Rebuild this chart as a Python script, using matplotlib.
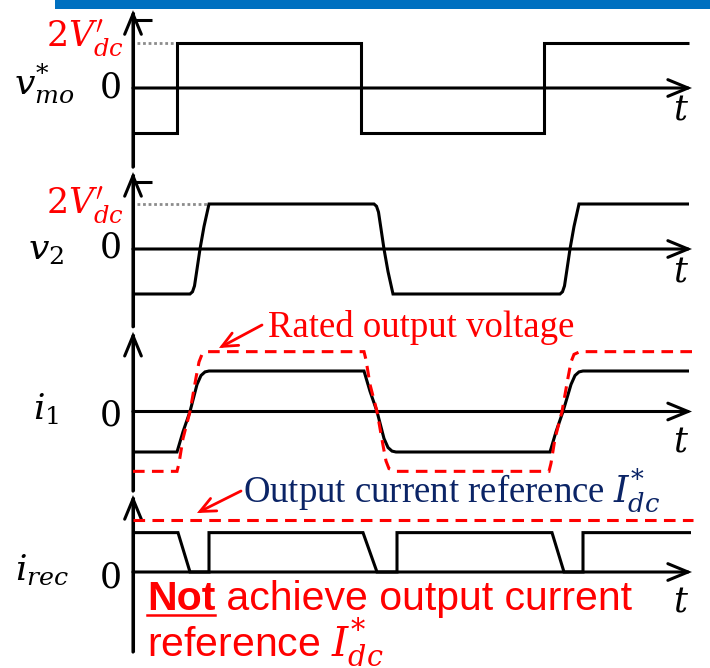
import matplotlib
matplotlib.use("Agg")
import matplotlib.pyplot as plt
from matplotlib.patches import FancyArrowPatch, Rectangle
from matplotlib.transforms import Affine2D

# ---- waveform data (time in arbitrary units, amplitude normalised) ----
VMO_T = [0, 44, 44, 228, 228, 411, 411, 556]
VMO_Y = [-1, -1, 1, 1, -1, -1, 1, 1]

V2_T = [0, 57, 59.5, 61.5, 64, 67, 71, 76,
        241, 243.5, 245.5, 248, 251, 255, 260,
        427, 429.5, 431.5, 434, 437, 441, 446, 556]
V2_Y = [-1, -1, -0.95, -0.82, -0.45, 0, 0.5, 1,
        1, 0.95, 0.82, 0.45, 0, -0.5, -1,
        -1, -0.95, -0.82, -0.45, 0, 0.5, 1, 1]

I1_T = [0, 44, 50, 57, 64, 68, 72, 76,
        231, 237, 244, 251, 255, 259, 263,
        417, 423, 430, 438, 442, 446, 450, 556]
I1_Y = [-0.9, -0.9, -0.45, 0, 0.6, 0.8, 0.88, 0.9,
        0.9, 0.45, 0, -0.6, -0.8, -0.88, -0.9,
        -0.9, -0.45, 0, 0.6, 0.8, 0.88, 0.9, 0.9]

RATED_T = [0, 44, 46, 50, 57, 63, 66, 69, 75,
           231, 233, 237, 244, 250, 253, 256, 263,
           416, 418, 422, 429, 435, 438, 441, 447, 563]
RATED_Y = [-1.33, -1.33, -1.15, -0.6, 0, 0.75, 1.1, 1.27, 1.33,
           1.33, 1.15, 0.6, 0, -0.75, -1.1, -1.27, -1.33,
           -1.33, -1.15, -0.6, 0, 0.75, 1.1, 1.27, 1.33, 1.33]

IREC_T = [0, 45, 57, 76, 76, 230, 244, 264, 264, 419, 431, 450, 450, 558]
IREC_Y = [0.875, 0.875, 0, 0, 0.875, 0.875, 0, 0, 0.875, 0.875, 0, 0, 0.875, 0.875]

IREF_T = [0, 560]
IREF_Y = [1.15, 1.15]

PANEL_LABELS = [r"$v_{mo}^{*}$", r"$v_2$", r"$i_1$", r"$i_{rec}$"]
PEAK_LABEL = r"$2V_{dc}'$"

# ---- layout ----
W, H = 710, 668
AXIS_X = 133          # pixel column of the vertical axes
UNIT = 45             # pixels per amplitude unit
ZEROS = [88, 249, 411.5, 572]
AX_TOP = [1.73, 1.71, 1.77, 1.71]
AX_BOT = [-1.76, -1.73, -1.77, -1.78]
T_END = 559

BLACK = "black"
RED = "#ff0000"
NAVY = "#0b2466"
LW = 2.2
MATH = "dejavuserif"

plt.rcParams["mathtext.fontset"] = MATH
fig = plt.figure(figsize=(W / 100, H / 100), dpi=100)
fig.patch.set_facecolor("white")
PX = Affine2D().scale(1 / W, -1 / H).translate(0, 1) + fig.transFigure


def make_panel(zero_px):
    half = 2 * UNIT
    ax = fig.add_axes([0, 1 - (zero_px + half) / H, 1, 2 * half / H])
    ax.set_xlim(-AXIS_X, W - AXIS_X)
    ax.set_ylim(-2, 2)
    ax.axis("off")
    ax.patch.set_alpha(0)
    return ax


def arrow(ax, p0, p1, color=BLACK, lw=LW, hl=1.45, hw=0.6, transform=None):
    a = FancyArrowPatch(p0, p1, arrowstyle=f"->,head_length={hl},head_width={hw}",
                        mutation_scale=10, lw=lw, color=color, shrinkA=0, shrinkB=0,
                        clip_on=False, joinstyle="miter",
                        transform=transform if transform is not None else ax.transData)
    ax.add_patch(a)


axes = [make_panel(z) for z in ZEROS]
for ax, top, bot in zip(axes, AX_TOP, AX_BOT):
    ax.plot([0, 0], [bot, top - 0.05], color=BLACK, lw=LW, solid_capstyle="butt", clip_on=False)
    arrow(ax, (0, bot), (0, top))
    arrow(ax, (0, 0), (T_END, 0))

# small stubs beside the upper arrow tips
for ax, top in zip(axes[:2], AX_TOP[:2]):
    ax.plot([0, 19], [top - 0.22, top - 0.22], color=BLACK, lw=LW, solid_capstyle="butt")

line_kw = dict(color=BLACK, lw=LW, solid_joinstyle="miter", solid_capstyle="butt", clip_on=False)
dash_kw = dict(color=RED, lw=LW, linestyle=(0, (3.8, 2.4)), dash_joinstyle="miter",
               dash_capstyle="butt", clip_on=False)
dot_kw = dict(color="#8c8c8c", lw=2.0, linestyle=(0, (1, 1)), dash_capstyle="butt")

# panel 1: command voltage
axes[0].plot([4, VMO_T[2]], [max(VMO_Y)] * 2, **dot_kw)
axes[0].plot(VMO_T, VMO_Y, **line_kw)
# panel 2: transformer voltage
axes[1].plot([4, V2_T[7]], [max(V2_Y)] * 2, **dot_kw)
axes[1].plot(V2_T, V2_Y, **line_kw)
# panel 3: primary current and rated output voltage envelope
axes[2].plot(I1_T, I1_Y, **line_kw)
axes[2].plot(RATED_T, RATED_Y, zorder=3, **dash_kw)
# panel 4: rectified current and reference
axes[3].plot(IREC_T, IREC_Y, **line_kw)
axes[3].plot(IREF_T, IREF_Y, zorder=3, **dash_kw)

# ---- text ----
def ptext(x, y, s, **kw):
    kw.setdefault("va", "baseline")
    kw.setdefault("math_fontfamily", MATH)
    return fig.text(x, y, s, transform=PX, **kw)

label_pos = [(14, 94), (28, 260), (33, 420), (15, 580)]
for (x, y), s in zip(label_pos, PANEL_LABELS):
    ptext(x, y, s, fontsize=26, ha="left")

for y in [97, 258, 425, 588]:
    ptext(121, y, r"$0$", fontsize=25, ha="right")

for y in [47, 214]:
    ptext(124, y, PEAK_LABEL, fontsize=25, ha="right", color=RED)

for y in [120, 282, 451, 611]:
    ptext(681, y, r"$t$", fontsize=25, ha="center")

ptext(268, 337, "Rated output voltage", fontsize=26.5, family="Liberation Serif",
      color=RED, ha="left")
arrow(axes[2], (262, 325), (219, 348), color=RED, lw=2.0, hl=1.1, hw=0.5, transform=PX)

ptext(243, 502, r"Output current reference $I_{dc}^{*}$", fontsize=26.5,
      family="Liberation Serif", color=NAVY, ha="left")
arrow(axes[3], (241, 491), (197, 513), color=RED, lw=2.0, hl=1.1, hw=0.5, transform=PX)

fig.canvas.draw()
renderer = fig.canvas.get_renderer()
t_not = ptext(147, 610, "Not", fontsize=29.5, family="Liberation Sans", weight="bold",
              color=RED, ha="left")
bb = t_not.get_window_extent(renderer)
fig.add_artist(plt.Line2D([bb.x0, bb.x1], [H - 615, H - 615], color=RED, lw=1.8,
                          transform=None))
fig.text(bb.x1, H - 610, " achieve output current", fontsize=29.5,
         family="Liberation Sans", color=RED, ha="left", va="baseline", transform=None)
ptext(147, 656, r"reference $I_{dc}^{*}$", fontsize=29.5, family="Liberation Sans",
      color=RED, ha="left")

# header bar
fig.add_artist(Rectangle((55, 0), W - 55, 9.3, transform=PX, color="#0070c0", lw=0))

fig.savefig("out.png", dpi=100)
